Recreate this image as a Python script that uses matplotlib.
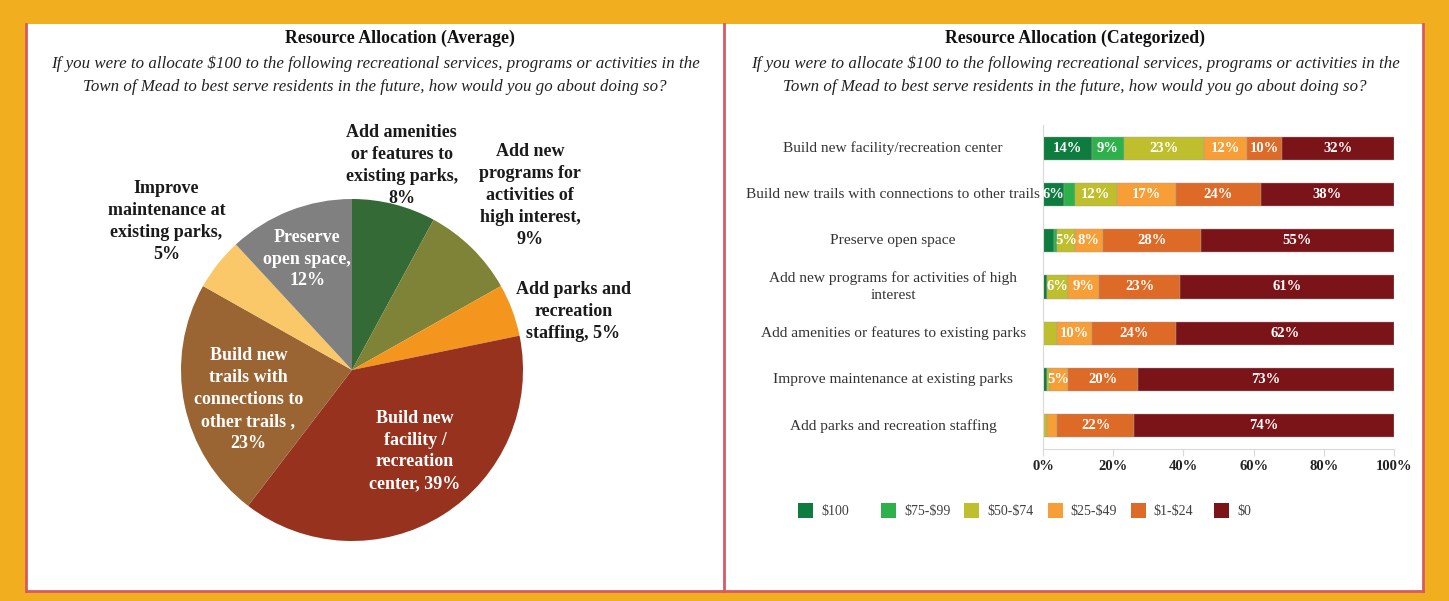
import numpy as np
import matplotlib.pyplot as plt
from matplotlib.patches import Rectangle
from matplotlib.lines import Line2D

plt.rcParams['font.family'] = ['Liberation Serif', 'DejaVu Serif']

# Average allocation (pie)
pie_labels = ['Add amenities\nor features to\nexisting parks,\n8%',
              'Add new\nprograms for\nactivities of\nhigh interest,\n9%',
              'Add parks and\nrecreation\nstaffing, 5%',
              'Build new\nfacility /\nrecreation\ncenter, 39%',
              'Build new\ntrails with\nconnections to\nother trails ,\n23%',
              'Improve\nmaintenance at\nexisting parks,\n5%',
              'Preserve\nopen space,\n12%']
pie_values = [8, 9, 5, 39, 23, 5, 12]
pie_colors = ['#336a35', '#7f8337', '#f4961e', '#97321f', '#9a6533', '#fac868', '#808080']
# label placement: distance (in radii) and clockwise shift (deg) from wedge middle
pie_label_dist = [1.23, 1.46, 1.34, 0.60, 0.63, 1.39, 0.70]
pie_label_shift = [-0.6, 1.0, 5.6, -5.8, -4.5, 0.4, -0.6]
pie_label_inside = [False, False, False, True, True, False, True]

# Categorized allocation (stacked bars)
categories = ['Build new facility/recreation center',
              'Build new trails with connections to other trails',
              'Preserve open space',
              'Add new programs for activities of high\ninterest',
              'Add amenities or features to existing parks',
              'Improve maintenance at existing parks',
              'Add parks and recreation staffing']
brackets = ['$100', '$75-$99', '$50-$74', '$25-$49', '$1-$24', '$0']
bracket_colors = ['#0e7c3e', '#2eb14a', '#bfbf2e', '#f89e36', '#dd6a27', '#7b1418']
s100 = [14, 6, 3, 1, 0, 1, 0]
s75 = [9, 3, 1, 0, 0, 0, 0]
s50 = [23, 12, 5, 6, 4, 1, 1]
s25 = [12, 17, 8, 9, 10, 5, 3]
s1 = [10, 24, 28, 23, 24, 20, 22]
s0 = [32, 38, 55, 61, 62, 73, 74]
series = [s100, s75, s50, s25, s1, s0]

title_l = 'Resource Allocation (Average)'
title_r = 'Resource Allocation (Categorized)'
question = ('If you were to allocate $100 to the following recreational services, programs or activities in the\n'
            'Town of Mead to best serve residents in the future, how would you go about doing so?')

W, H = 1449, 601
fig = plt.figure(figsize=(W / 100, H / 100), dpi=100, facecolor='#f1ae1e')


def fx(px):
    return px / W


def fy(py):
    return 1 - py / H


# panels
red = '#d65a60'
fig.patches.append(Rectangle((fx(26), fy(591)), fx(1423 - 26), (591 - 24) / H,
                             transform=fig.transFigure, facecolor='white', edgecolor='none', zorder=-2))
for xs, ys in [([26, 26], [24, 591]), ([26, 1423], [591, 591]),
               ([724, 724], [24, 591]), ([1423, 1423], [24, 591])]:
    fig.lines.append(Line2D([fx(x) for x in xs], [fy(y) for y in ys], transform=fig.transFigure,
                            color=red, lw=2, zorder=-1))

for cx, t in [(400, title_l), (1075, title_r)]:
    fig.text(fx(cx), fy(38), t, ha='center', va='center', fontsize=12.8, fontweight='bold', color='#111111')
    fig.text(fx(cx - 25 if cx < 700 else cx), fy(75), question, ha='center', va='center', fontsize=12.2,
             style='italic', color='#222222', linespacing=1.6, parse_math=False)

# pie
r = 171
cx, cy = 352, 370
axp = fig.add_axes([fx(cx - r), fy(cy + r), 2 * r / W, 2 * r / H])
wedges, _ = axp.pie(pie_values, colors=pie_colors, startangle=90, counterclock=False,
                    wedgeprops=dict(linewidth=0))
axp.set_xlim(-1, 1)
axp.set_ylim(-1, 1)
axp.set_aspect('equal')
for w, lab, d, sh, inside in zip(wedges, pie_labels, pie_label_dist, pie_label_shift, pie_label_inside):
    ang = np.deg2rad((w.theta1 + w.theta2) / 2 - sh)
    axp.text(d * np.cos(ang), d * np.sin(ang), lab, ha='center', va='center', fontsize=13,
             fontweight='bold', color='white' if inside else '#1a1a1a', linespacing=1.38, clip_on=False)

# stacked bars
ax = fig.add_axes([fx(1043), fy(449), 351 / W, 324 / H])
y = np.arange(len(categories))
left = np.zeros(len(categories))
for vals, col in zip(series, bracket_colors):
    vals = np.array(vals, dtype=float)
    ax.barh(y, vals, left=left, height=0.5, color=col, edgecolor='#a0a0a0', linewidth=0.3)
    for yi, (l, v) in enumerate(zip(left, vals)):
        if v >= 5:
            ax.text(l + v / 2, yi, f'{v:.0f}%', ha='center', va='center', color='white',
                    fontsize=10.5, fontweight='bold')
    left += vals

ax.set_xlim(0, 100)
ax.set_ylim(len(categories) - 0.5, -0.5)
ax.set_xticks(np.arange(0, 101, 20))
ax.set_xticklabels([f'{t}%' for t in range(0, 101, 20)], fontweight='bold', fontsize=10.5, color='#222222')
ax.tick_params(axis='x', length=5, color='#d9d9d9', pad=3)
ax.set_yticks([])
for s in ['top', 'right']:
    ax.spines[s].set_visible(False)
for s in ['left', 'bottom']:
    ax.spines[s].set_color('#d9d9d9')
for yi, cat in enumerate(categories):
    ax.text(-0.427, yi, cat, transform=ax.get_yaxis_transform(), ha='center', va='center',
            fontsize=11.1, color='#333333', linespacing=1.4)

# legend
for i, (lab, col) in enumerate(zip(brackets, bracket_colors)):
    x0 = 798 + i * 83.2
    fig.patches.append(Rectangle((fx(x0), fy(518)), 15 / W, 15 / H, transform=fig.transFigure,
                                 facecolor=col, edgecolor='none'))
    fig.text(fx(x0 + 23), fy(511), lab, ha='left', va='center', fontsize=10, color='#404040',
             parse_math=False)

fig.savefig('out.png', dpi=100, facecolor=fig.get_facecolor())
